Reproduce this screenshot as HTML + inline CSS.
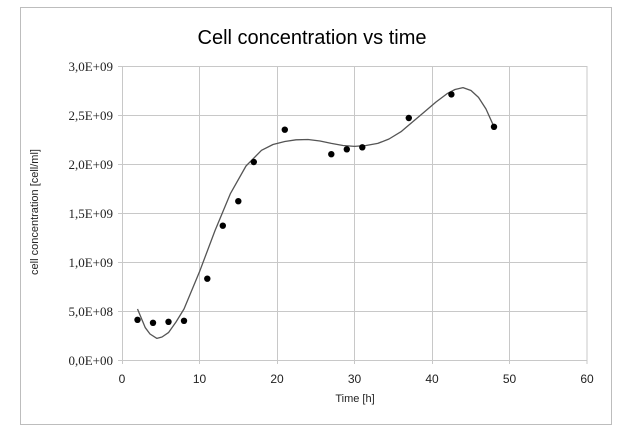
<!DOCTYPE html>
<html><head><style>body{margin:0;background:#fff}</style></head><body>
<svg width="624" height="434" xmlns="http://www.w3.org/2000/svg" font-family="Liberation Sans, sans-serif">
<rect x="0" y="0" width="624" height="434" fill="#fff"/>
<rect x="20.5" y="7.5" width="591" height="417" fill="none" stroke="#bdbdbd"/>
<text x="312" y="44" font-size="20" text-anchor="middle" fill="#000">Cell concentration vs time</text>
<g stroke="#c8c8c8" stroke-width="1">
<line x1="122" y1="66.5" x2="587" y2="66.5"/><line x1="122" y1="115.5" x2="587" y2="115.5"/>
<line x1="122" y1="164.5" x2="587" y2="164.5"/><line x1="122" y1="213.5" x2="587" y2="213.5"/>
<line x1="122" y1="262.5" x2="587" y2="262.5"/><line x1="122" y1="311.5" x2="587" y2="311.5"/>
<line x1="118" y1="360.5" x2="587" y2="360.5"/>
<line x1="199.5" y1="66" x2="199.5" y2="364"/><line x1="277.5" y1="66" x2="277.5" y2="364"/>
<line x1="354.5" y1="66" x2="354.5" y2="364"/><line x1="432.5" y1="66" x2="432.5" y2="364"/>
<line x1="509.5" y1="66" x2="509.5" y2="364"/><line x1="587" y1="66" x2="587" y2="364"/>
<line x1="122.5" y1="66" x2="122.5" y2="364"/>
<line x1="118" y1="66.5" x2="122" y2="66.5"/><line x1="118" y1="115.5" x2="122" y2="115.5"/>
<line x1="118" y1="164.5" x2="122" y2="164.5"/><line x1="118" y1="213.5" x2="122" y2="213.5"/>
<line x1="118" y1="262.5" x2="122" y2="262.5"/><line x1="118" y1="311.5" x2="122" y2="311.5"/>
</g>
<g font-family="Liberation Serif, serif" font-size="13" text-anchor="end" fill="#222">
<text x="113" y="71">3,0E+09</text><text x="113" y="120">2,5E+09</text>
<text x="113" y="169">2,0E+09</text><text x="113" y="218">1,5E+09</text>
<text x="113" y="267">1,0E+09</text><text x="113" y="316">5,0E+08</text>
<text x="113" y="365">0,0E+00</text>
</g>
<g font-size="12" text-anchor="middle" fill="#222">
<text x="122" y="383">0</text><text x="199.5" y="383">10</text><text x="277" y="383">20</text>
<text x="354.5" y="383">30</text><text x="432" y="383">40</text><text x="509.5" y="383">50</text>
<text x="587" y="383">60</text>
<text x="355" y="402" font-size="11">Time [h]</text>
<text transform="translate(38,212) rotate(-90)" font-size="11">cell concentration [cell/ml]</text>
</g>
<polyline fill="none" stroke="#555" stroke-width="1.3" stroke-linejoin="round" points="137.5,309 145.3,327.7 150,334 156.9,338.4 162,337 168.5,332.6 176,322 184,309 199.5,271.8 215,230.6 230.5,193.4 246,166 261.5,150.3 273,144.5 284.8,141.5 296,139.8 308,139.5 320,141 331.3,143.4 343,145.5 354.5,146.4 366,145.5 377.8,143.4 389,139 401,131.7 424.3,112 436,102 447.5,93.4 455,89.5 463,87.6 471,90.5 478.5,97.4 486,109 494,126.8"/>
<g fill="#000">
<circle cx="137.5" cy="319.8" r="3.2"/><circle cx="153" cy="322.8" r="3.2"/><circle cx="168.5" cy="321.8" r="3.2"/>
<circle cx="184" cy="320.8" r="3.2"/><circle cx="207.3" cy="278.7" r="3.2"/><circle cx="222.8" cy="225.7" r="3.2"/>
<circle cx="238.3" cy="201.2" r="3.2"/><circle cx="253.8" cy="162" r="3.2"/><circle cx="284.8" cy="129.7" r="3.2"/>
<circle cx="331.3" cy="154.2" r="3.2"/><circle cx="346.8" cy="149.3" r="3.2"/><circle cx="362.3" cy="147.3" r="3.2"/>
<circle cx="408.8" cy="118" r="3.2"/><circle cx="451.4" cy="94.4" r="3.2"/><circle cx="494" cy="126.8" r="3.2"/>
</g>
</svg>
</body></html>
